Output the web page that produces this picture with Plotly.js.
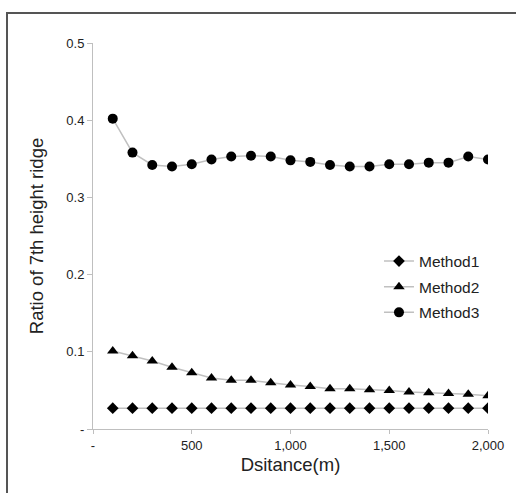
<!DOCTYPE html>
<html>
<head>
<meta charset="utf-8">
<script src="https://cdn.plot.ly/plotly-3.0.1.min.js"></script>
<style>
  html, body { margin: 0; padding: 0; background: #fff; }
  #wrap { position: relative; width: 516px; height: 493px; overflow: hidden; }
  #chart { width: 516px; height: 493px; }
  #frame { position: absolute; left: 6px; top: 12px; width: 520px; height: 500px;
           border: 2px solid #555; pointer-events: none; box-sizing: border-box; }
</style>
</head>
<body>
<div id="wrap"><div id="chart"></div><div id="frame"></div></div>
<script>
const distance = [100,200,300,400,500,600,700,800,900,1000,1100,1200,1300,1400,1500,1600,1700,1800,1900,2000];
const method1 = [0.027,0.027,0.027,0.027,0.027,0.027,0.027,0.027,0.027,0.027,0.027,0.027,0.027,0.027,0.027,0.027,0.027,0.027,0.027,0.027];
const method2 = [0.101,0.095,0.088,0.080,0.073,0.066,0.063,0.063,0.060,0.057,0.055,0.052,0.052,0.051,0.050,0.048,0.047,0.046,0.045,0.043];
const method3 = [0.402,0.358,0.342,0.340,0.343,0.349,0.353,0.354,0.353,0.348,0.346,0.342,0.340,0.340,0.343,0.343,0.345,0.345,0.353,0.349];
const seriesNames = ['Method1','Method2','Method3'];
const xTickVals = [0,500,1000,1500,2000];
const xTickText = ['-','500','1,000','1,500','2,000'];
const yTickVals = [0,0.1,0.2,0.3,0.4,0.5];
const yTickText = ['-','0.1','0.2','0.3','0.4','0.5'];

const lineStyle = {color:'#c0c0c0', width:1.5};
const font = 'Liberation Sans, Arial, sans-serif';
const traces = [
  {x:distance, y:method1, name:seriesNames[0], legendgroup:'g1', mode:'lines+markers', line:lineStyle,
   marker:{symbol:'diamond', size:9, color:'#000'}},
  {x:distance, y:method2, name:seriesNames[1], legendgroup:'g2', mode:'lines+markers', line:lineStyle,
   marker:{symbol:'triangle-up', size:10, color:'#000'}},
  {x:distance, y:method3, name:seriesNames[2], legendgroup:'g3', mode:'lines+markers', line:lineStyle,
   marker:{symbol:'circle', size:10, color:'#000'}}
];
const layout = {
  width:516, height:493,
  margin:{l:93, r:28, t:43, b:64},
  paper_bgcolor:'#fff', plot_bgcolor:'#fff',
  font:{family:font, size:12, color:'#222'},
  showlegend:true,
  legend:{x:0.724, y:0.478, xanchor:'left', yanchor:'top', bgcolor:'rgba(0,0,0,0)',
          font:{family:font, size:15.5, color:'#222'}, itemwidth:30, tracegroupgap:2.5},
  xaxis:{range:[0,2000], tickvals:xTickVals, ticktext:xTickText, showgrid:false, zeroline:false,
         showline:true, linecolor:'#bfbfbf', linewidth:1, ticks:'outside', ticklen:4, tickcolor:'#bfbfbf',
         tickfont:{size:13, color:'#222'},
         title:{text:'Dsitance(m)', font:{size:18.5, color:'#222'}, standoff:6}},
  yaxis:{range:[0,0.5], tickvals:yTickVals, ticktext:yTickText, showgrid:false, zeroline:false,
         showline:true, linecolor:'#bfbfbf', linewidth:1, ticks:'outside', ticklen:5, tickcolor:'#bfbfbf',
         tickfont:{size:13, color:'#222'},
         title:{text:'Ratio of 7th height ridge', font:{size:18.5, color:'#222'}, standoff:17}}
};
Plotly.newPlot('chart', traces, layout, {displayModeBar:false, staticPlot:true});
</script>
</body>
</html>
